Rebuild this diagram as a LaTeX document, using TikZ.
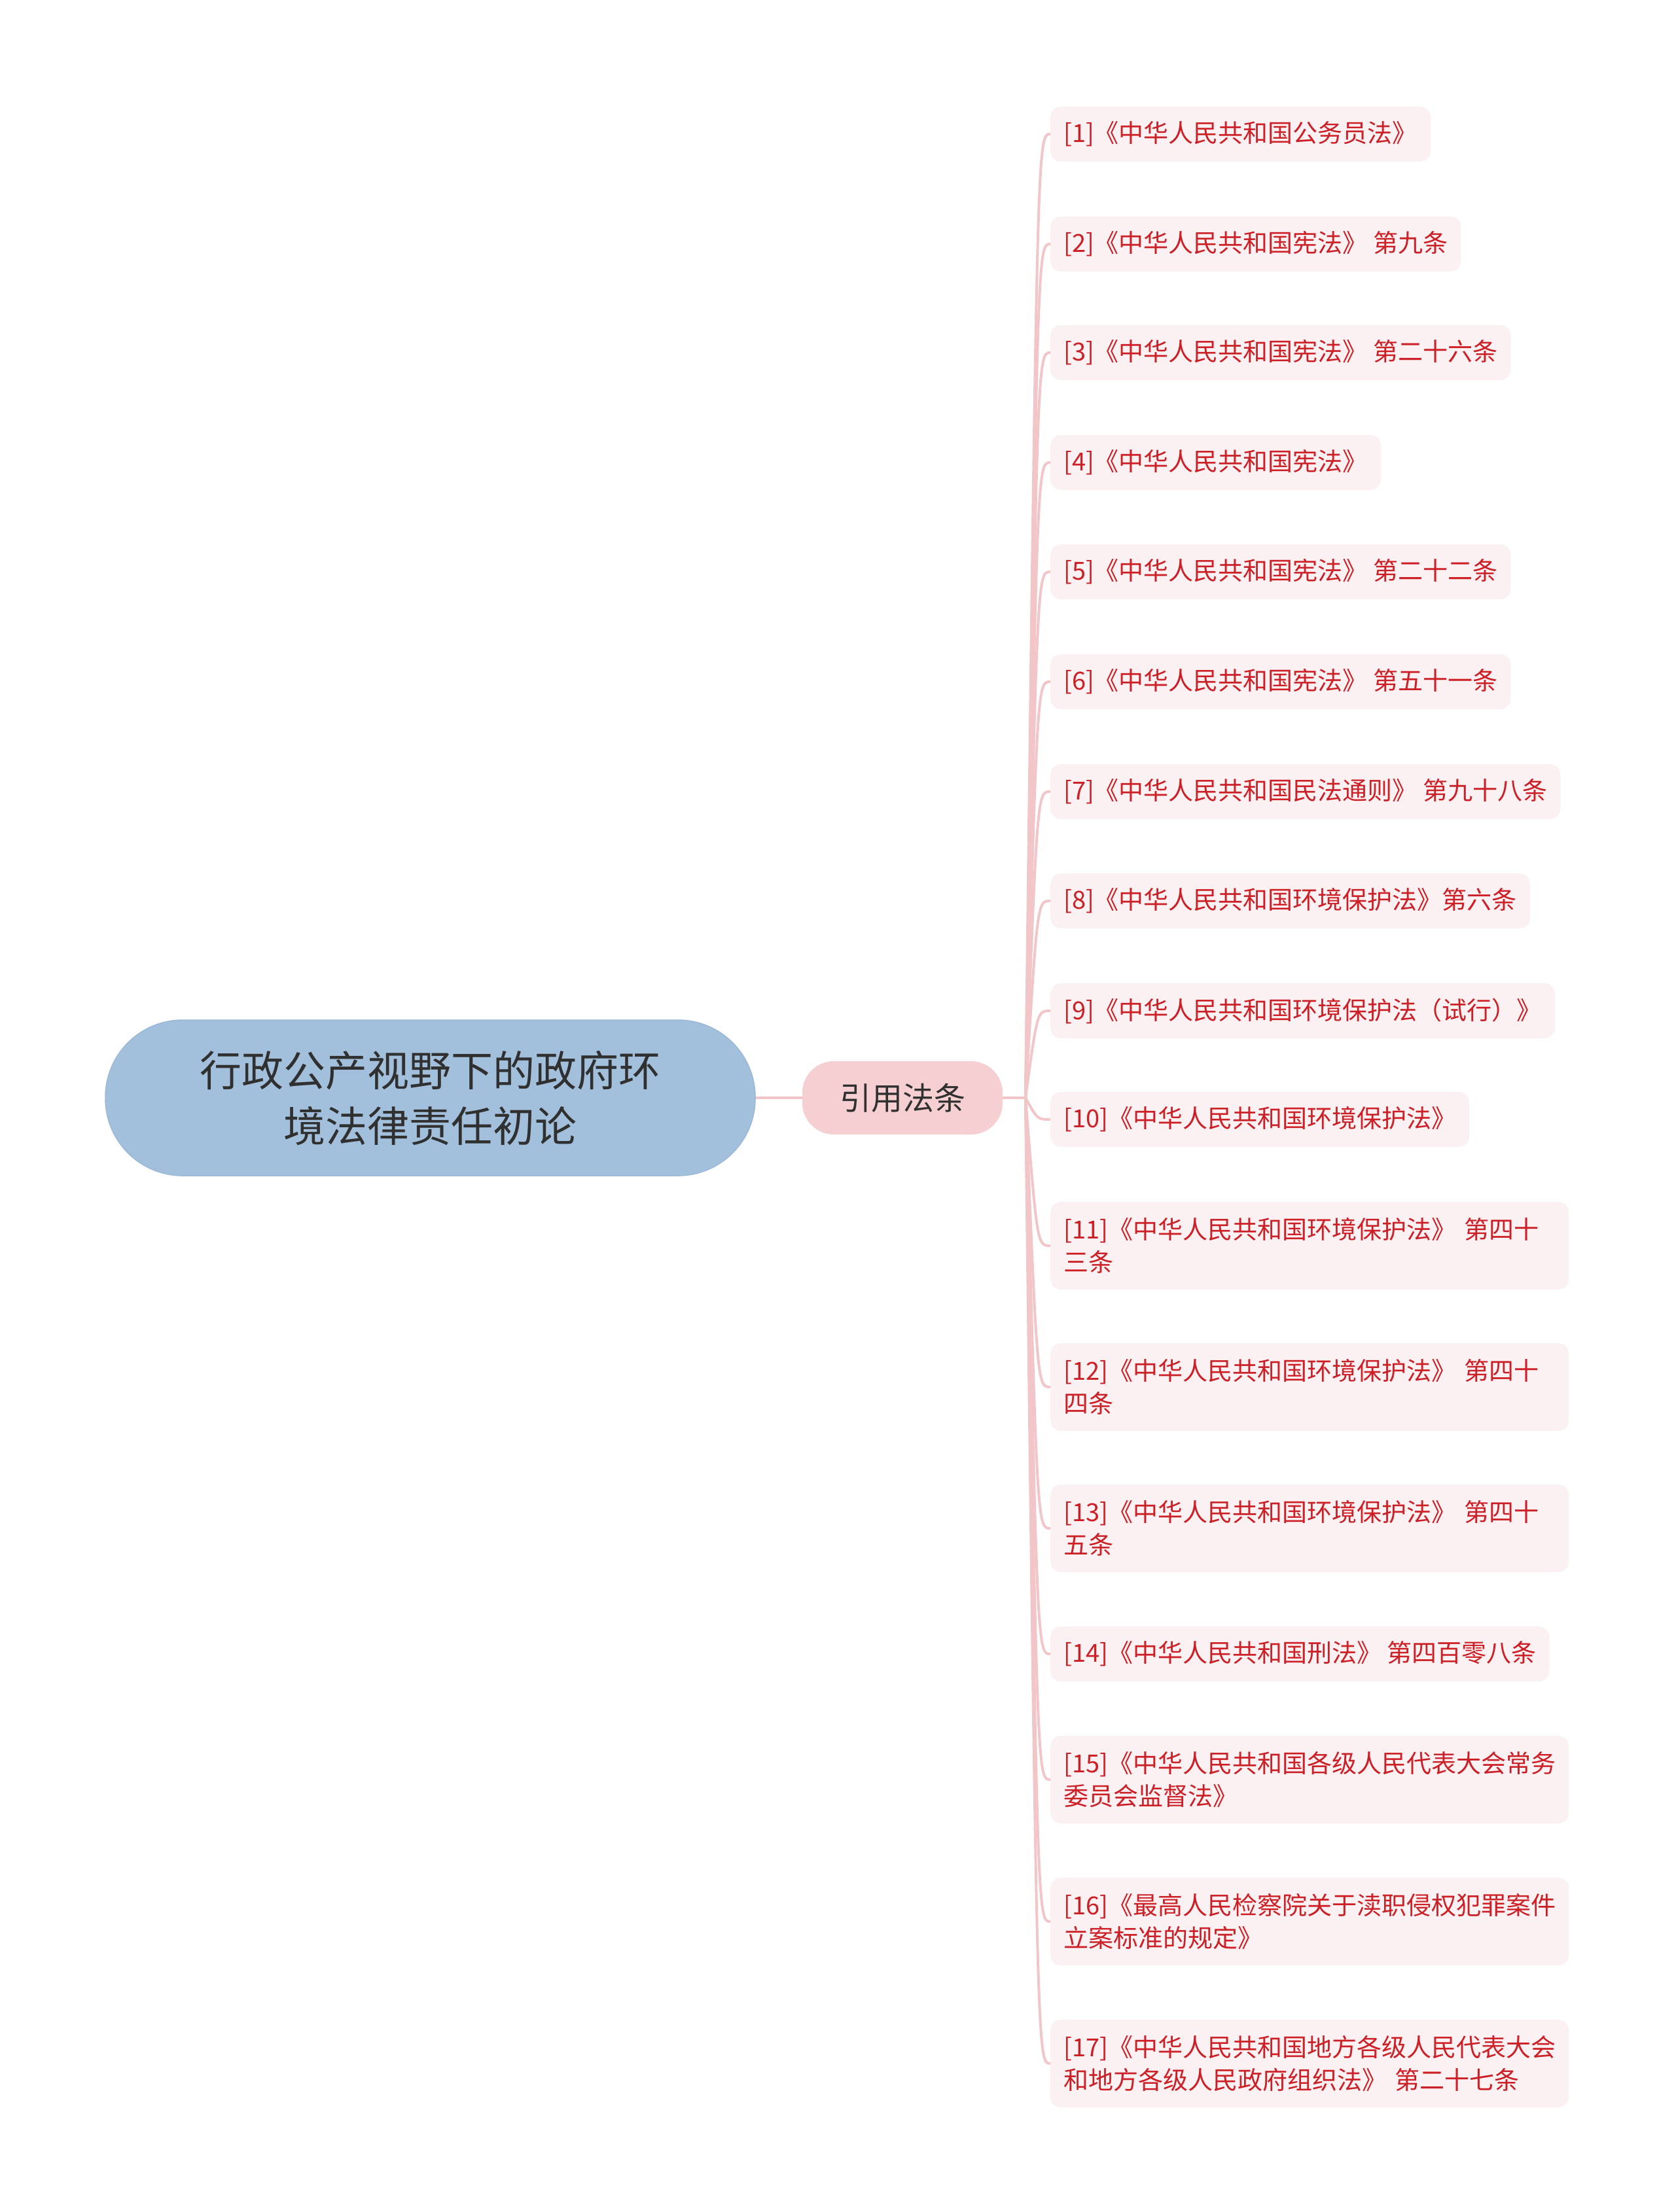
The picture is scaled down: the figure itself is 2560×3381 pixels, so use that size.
\documentclass[tikz,border=0pt]{standalone}
\usepackage{fontspec}
\setmainfont{Noto Sans CJK SC}
\usetikzlibrary{calc}
\definecolor{rootfill}{HTML}{A2C0DC}
\definecolor{rootdraw}{HTML}{9BB9D6}
\definecolor{midfill}{HTML}{F5CFD1}
\definecolor{leaffill}{HTML}{FCF1F2}
\definecolor{leaftext}{HTML}{CC1F26}
\definecolor{linecol}{HTML}{F2C6C8}
\definecolor{roottext}{HTML}{303030}
\tikzset{
  rootnode/.style={fill=rootfill, draw=rootdraw, line width=1.5pt, rounded corners=118pt,
    minimum width=993pt, minimum height=238pt, align=center, text=roottext,
    font=\fontsize{64}{85}\selectfont, inner sep=0pt},
  midnode/.style={fill=midfill, draw=none, rounded corners=48pt,
    minimum width=306pt, minimum height=112pt, text=roottext,
    font=\fontsize{48}{60}\selectfont, inner sep=0pt},
  leafone/.style={fill=leaffill, draw=none, rounded corners=16pt, anchor=west,
    minimum height=84pt, inner xsep=20pt, inner ysep=0pt, text=leaftext,
    font=\fontsize{38}{50}\selectfont},
  leaftwo/.style={fill=leaffill, draw=none, rounded corners=16pt, anchor=west,
    minimum height=134pt, inner xsep=20pt, inner ysep=0pt, text=leaftext,
    text width=752pt, align=left, font=\fontsize{38}{50}\selectfont},
  conn/.style={draw=linecol, line width=4pt},
}
\begin{document}
\begin{tikzpicture}[x=1pt,y=-1pt]
\useasboundingbox (0,0) rectangle (2560,3381);

\node[rootnode] (root) at (657.5,1678) {行政公产视野下的政府环\\境法律责任初论};
\node[midnode] (mid) at (1379,1678) {引用法条};
\coordinate (sp) at (1567,1678);

\node[leafone] (L1) at (1605,205) {[1]《中华人民共和国公务员法》};
\node[leafone] (L2) at (1605,373) {[2]《中华人民共和国宪法》 第九条};
\node[leafone] (L3) at (1605,539) {[3]《中华人民共和国宪法》 第二十六条};
\node[leafone] (L4) at (1605,707) {[4]《中华人民共和国宪法》};
\node[leafone] (L5) at (1605,874) {[5]《中华人民共和国宪法》 第二十二条};
\node[leafone] (L6) at (1605,1042) {[6]《中华人民共和国宪法》 第五十一条};
\node[leafone] (L7) at (1605,1210) {[7]《中华人民共和国民法通则》 第九十八条};
\node[leafone] (L8) at (1605,1377) {[8]《中华人民共和国环境保护法》第六条};
\node[leafone] (L9) at (1605,1545) {[9]《中华人民共和国环境保护法（试行）》};
\node[leafone] (L10) at (1605,1711) {[10]《中华人民共和国环境保护法》};
\node[leaftwo] (L11) at (1605,1904) {[11]《中华人民共和国环境保护法》 第四十\\三条};
\node[leaftwo] (L12) at (1605,2120) {[12]《中华人民共和国环境保护法》 第四十\\四条};
\node[leaftwo] (L13) at (1605,2336) {[13]《中华人民共和国环境保护法》 第四十\\五条};
\node[leafone] (L14) at (1605,2528) {[14]《中华人民共和国刑法》 第四百零八条};
\node[leaftwo] (L15) at (1605,2720) {[15]《中华人民共和国各级人民代表大会常务\\委员会监督法》};
\node[leaftwo] (L16) at (1605,2937) {[16]《最高人民检察院关于渎职侵权犯罪案件\\立案标准的规定》};
\node[leaftwo] (L17) at (1605,3154) {[17]《中华人民共和国地方各级人民代表大会\\和地方各级人民政府组织法》 第二十七条};

\draw[conn] (root.east) -- (mid.west);
\draw[conn] (mid.east) -- (sp);
\foreach \n in {1,...,17} {
  \draw[conn] (sp) .. controls ([xshift=-20pt]L\n.west) and ([xshift=-20pt]L\n.west) .. (L\n.west);
}
\end{tikzpicture}
\end{document}
